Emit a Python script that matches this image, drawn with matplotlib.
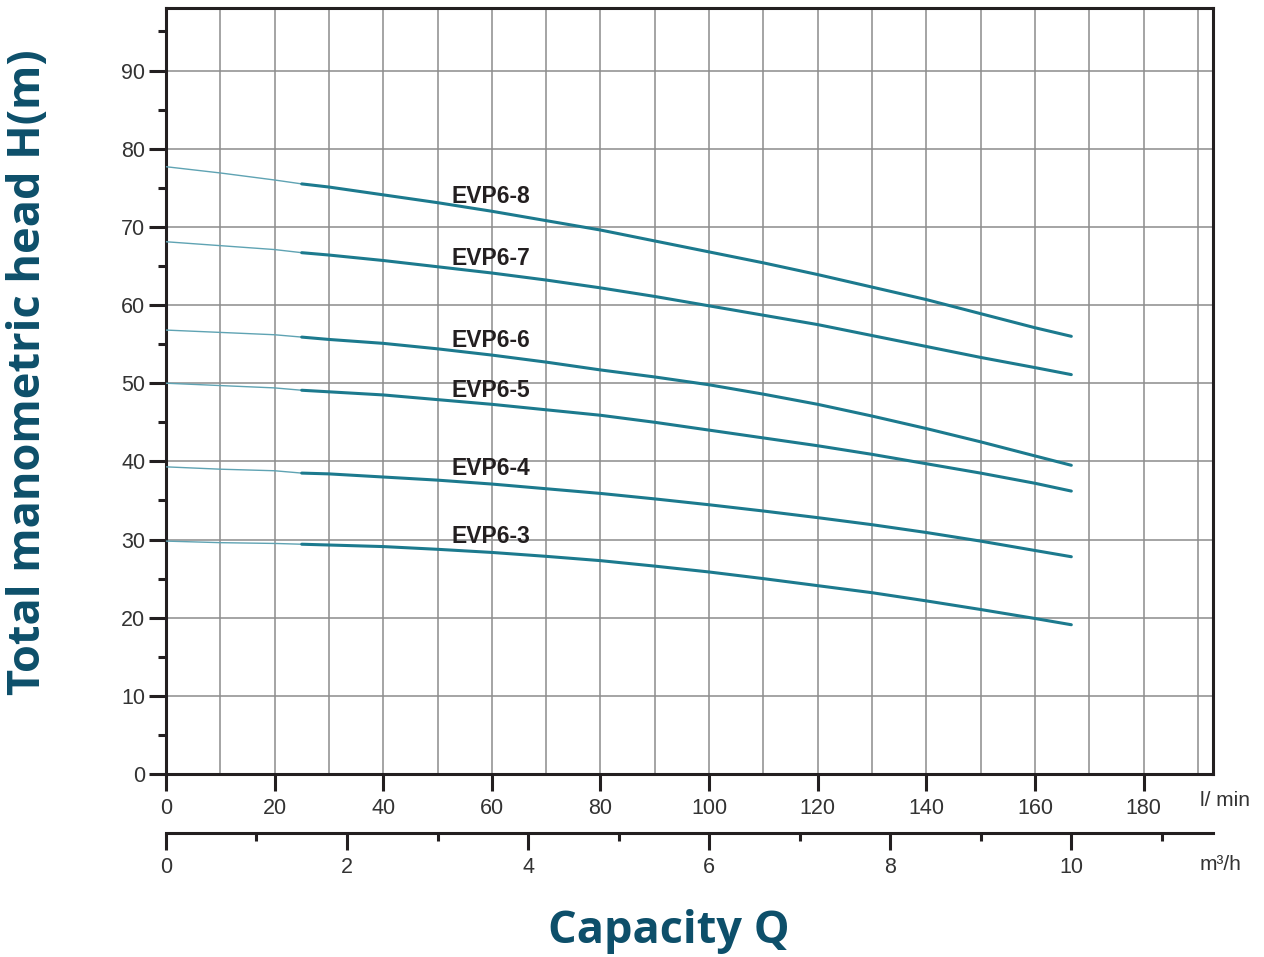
import numpy as np
import matplotlib.pyplot as plt
from matplotlib.ticker import MultipleLocator

# flow in l/min, head in m
flow = [0, 10, 20, 25, 30, 40, 50, 60, 70, 80, 90, 100, 110, 120, 130, 140, 150, 160, 166.7]
evp6_8 = [77.7, 76.9, 76.0, 75.5, 75.1, 74.1, 73.1, 72.0, 70.8, 69.6, 68.2, 66.8, 65.4, 63.9, 62.3, 60.7, 58.9, 57.1, 56.0]
evp6_7 = [68.1, 67.6, 67.1, 66.7, 66.4, 65.7, 64.9, 64.1, 63.2, 62.2, 61.1, 59.9, 58.7, 57.5, 56.1, 54.7, 53.3, 52.0, 51.1]
evp6_6 = [56.8, 56.5, 56.2, 55.9, 55.6, 55.1, 54.4, 53.6, 52.7, 51.7, 50.8, 49.8, 48.6, 47.3, 45.8, 44.2, 42.5, 40.7, 39.5]
evp6_5 = [50.0, 49.7, 49.4, 49.1, 48.9, 48.5, 47.9, 47.3, 46.6, 45.9, 45.0, 44.0, 43.0, 42.0, 40.9, 39.7, 38.5, 37.2, 36.2]
evp6_4 = [39.3, 39.0, 38.8, 38.5, 38.4, 38.0, 37.6, 37.1, 36.5, 35.9, 35.2, 34.45, 33.65, 32.8, 31.9, 30.9, 29.8, 28.6, 27.8]
evp6_3 = [29.8, 29.6, 29.5, 29.4, 29.3, 29.1, 28.75, 28.35, 27.85, 27.3, 26.6, 25.85, 25.0, 24.1, 23.2, 22.15, 21.05, 19.9, 19.1]

names = ['EVP6-8', 'EVP6-7', 'EVP6-6', 'EVP6-5', 'EVP6-4', 'EVP6-3']
curves = [evp6_8, evp6_7, evp6_6, evp6_5, evp6_4, evp6_3]
label_y = [73.9, 66.0, 55.5, 49.1, 39.1, 30.4]

teal = '#1c7a8e'
dark = '#231f20'
title_col = '#0d4f6a'

plt.rcParams['font.family'] = ['Liberation Sans', 'DejaVu Sans']

fig = plt.figure(figsize=(12.64, 9.57), dpi=100)
ax = fig.add_axes([0.1313, 0.1912, 0.9597 - 0.1313, 0.9916 - 0.1912])

q = np.array(flow)
for name, h, ly in zip(names, curves, label_y):
    h = np.array(h)
    # faint part of the curve below 25 l/min, solid above
    ax.plot(q[q <= 25], h[q <= 25], color='#5fa3b3', lw=1.0, zorder=3)
    ax.plot(q[q >= 25], h[q >= 25], color=teal, lw=2.2, zorder=3,
            solid_capstyle='round', solid_joinstyle='round')
    ax.text(52.5, ly, name, fontsize=16.5, fontweight='bold', color=dark,
            ha='left', va='center', zorder=4)

ax.set_xlim(0, 192.8)
ax.set_ylim(0, 98)

ax.xaxis.set_major_locator(MultipleLocator(20))
ax.xaxis.set_minor_locator(MultipleLocator(10))
ax.yaxis.set_major_locator(MultipleLocator(10))
ax.yaxis.set_minor_locator(MultipleLocator(5))

ax.grid(True, which='both', axis='x', color='#8c8c8c', lw=1.1)
ax.grid(True, which='major', axis='y', color='#8c8c8c', lw=1.1)
ax.set_axisbelow(True)

ax.tick_params(axis='both', which='major', length=12, width=2.2, color=dark,
               labelsize=15.5, labelcolor='#333333')
ax.tick_params(axis='x', which='major', pad=5)
ax.tick_params(axis='x', which='minor', length=0)
ax.tick_params(axis='y', which='minor', length=6, width=2.2, color=dark)
ax.tick_params(axis='y', which='major', pad=3)

for s in ax.spines.values():
    s.set_linewidth(2.2)
    s.set_color(dark)

# second flow scale in m3/h
sec = ax.secondary_xaxis(-0.077, functions=(lambda x: x * 0.06, lambda m: m / 0.06))
sec.xaxis.set_major_locator(MultipleLocator(2))
sec.xaxis.set_minor_locator(MultipleLocator(1))
sec.tick_params(which='major', length=12, width=2.2, color=dark, labelsize=15.5,
                labelcolor='#333333', pad=5)
sec.tick_params(which='minor', length=6, width=2.2, color=dark)
sec.spines['bottom'].set_linewidth(2.2)
sec.spines['bottom'].set_color(dark)

fig.text(1200 / 1264, 1 - 800 / 957, 'l/ min', fontsize=15, color='#333333',
         ha='left', va='center')
fig.text(1200 / 1264, 1 - 865 / 957, 'm³/h', fontsize=15, color='#333333',
         ha='left', va='center')

fig.text(669 / 1264, 1 - 932 / 957, 'Capacity Q', fontsize=32.5, fontweight='bold',
         color=title_col, family='Open Sans', ha='center', va='center')
fig.text(29 / 1264, 1 - 372 / 957, 'Total manometric head H(m)', fontsize=32.5,
         fontweight='bold', color=title_col, family='Open Sans', rotation=90,
         ha='center', va='center')

fig.savefig('out.png', dpi=100)
